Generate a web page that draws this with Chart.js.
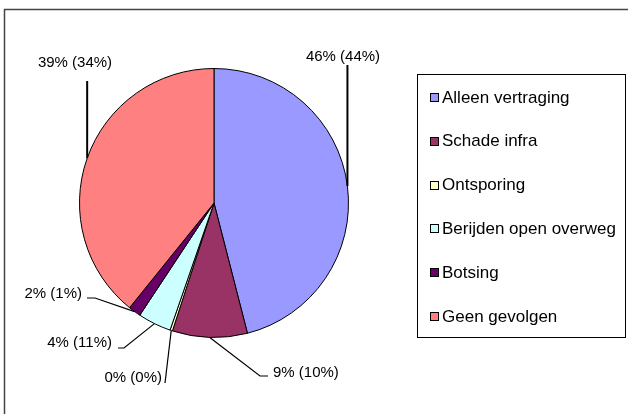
<!DOCTYPE html>
<html>
<head>
<meta charset="utf-8">
<script src="https://cdn.jsdelivr.net/npm/chart.js@4.4.1/dist/chart.umd.min.js"></script>
<style>
  html, body { margin: 0; padding: 0; background: #fff; }
  #wrap { width: 628px; height: 414px; position: relative; }
</style>
</head>
<body>
<div id="wrap"><canvas id="c" width="628" height="414"></canvas></div>
<script>
// ---- data ----
const categories = ['Alleen vertraging', 'Schade infra', 'Ontsporing', 'Berijden open overweg', 'Botsing', 'Geen gevolgen'];
const shares = [46, 9, 0.3, 4, 1.5, 39.2];
const shownPct = [46, 9, 0, 4, 2, 39];
const prevPct = [44, 10, 0, 11, 1, 34];
const sliceColors = ['#9999FF', '#993366', '#FFFFCC', '#CCFFFF', '#660066', '#FF8080'];

// ---- label placement (layout only) ----
const labelPlacement = [
  { x: 343, y: 57, align: 'center', up: 65 },
  { x: 273, y: 373, align: 'left', pts: [[260, 376], [268, 376]] },
  { x: 162, y: 378, align: 'right', pts: [[165, 383]] },
  { x: 112, y: 343, align: 'right', pts: [[124, 348], [118, 348]] },
  { x: 82, y: 294, align: 'right', pts: [[95, 298], [87, 298]] },
  { x: 75, y: 63, align: 'center', up: 81 }
];

const FONT = '"Liberation Sans", Arial, sans-serif';

const framePlugin = {
  id: 'frame',
  beforeDraw(chart) {
    const ctx = chart.ctx;
    ctx.save();
    ctx.fillStyle = '#fff';
    ctx.fillRect(0, 0, chart.width, chart.height);
    ctx.strokeStyle = '#444';
    ctx.lineWidth = 1.5;
    ctx.strokeRect(4.5, 9.5, 800, 600);
    ctx.restore();
  }
};

const labelPlugin = {
  id: 'pieLabels',
  afterDatasetsDraw(chart) {
    const ctx = chart.ctx;
    const meta = chart.getDatasetMeta(0);
    ctx.save();
    ctx.strokeStyle = '#000';
    ctx.fillStyle = '#000';
    ctx.font = '15px ' + FONT;
    ctx.textBaseline = 'middle';
    meta.data.forEach((arc, i) => {
      const p = arc.getProps(['x', 'y', 'startAngle', 'endAngle', 'outerRadius'], true);
      const mid = (p.startAngle + p.endAngle) / 2;
      const ex = p.x + Math.cos(mid) * p.outerRadius;
      const ey = p.y + Math.sin(mid) * p.outerRadius;
      const lp = labelPlacement[i];
      ctx.beginPath();
      ctx.moveTo(ex, ey);
      if (lp.up !== undefined) {
        ctx.lineWidth = 2;
        ctx.lineTo(ex, lp.up);
      } else {
        ctx.lineWidth = 1.2;
        lp.pts.forEach(pt => ctx.lineTo(pt[0], pt[1]));
      }
      ctx.stroke();
      ctx.textAlign = lp.align;
      ctx.fillText(shownPct[i] + '% (' + prevPct[i] + '%)', lp.x, lp.y);
    });
    ctx.restore();
  }
};

const legendPlugin = {
  id: 'boxLegend',
  afterDraw(chart) {
    const ctx = chart.ctx;
    ctx.save();
    ctx.strokeStyle = '#000';
    ctx.lineWidth = 1;
    ctx.strokeRect(417.5, 74.5, 208, 263);
    ctx.font = '17px ' + FONT;
    ctx.textBaseline = 'middle';
    ctx.textAlign = 'left';
    const labels = chart.data.labels;
    const colors = chart.data.datasets[0].backgroundColor;
    labels.forEach((lab, i) => {
      const cy = 98 + i * 43.8;
      const top = Math.round(cy - 5) + 0.5;
      ctx.fillStyle = colors[i];
      ctx.fillRect(430.5, top, 8, 8);
      ctx.strokeStyle = '#000';
      ctx.strokeRect(430.5, top, 8, 8);
      ctx.fillStyle = '#000';
      ctx.fillText(lab, 442, cy);
    });
    ctx.restore();
  }
};

new Chart(document.getElementById('c'), {
  type: 'pie',
  data: {
    labels: categories,
    datasets: [{
      data: shares,
      backgroundColor: sliceColors,
      borderColor: '#000',
      borderWidth: 1
    }]
  },
  options: {
    responsive: false,
    animation: false,
    events: [],
    layout: { padding: { left: 79, right: 279, top: 68, bottom: 76 } },
    plugins: {
      legend: { display: false },
      tooltip: { enabled: false },
      title: { display: false }
    }
  },
  plugins: [framePlugin, labelPlugin, legendPlugin]
});
</script>
</body>
</html>
